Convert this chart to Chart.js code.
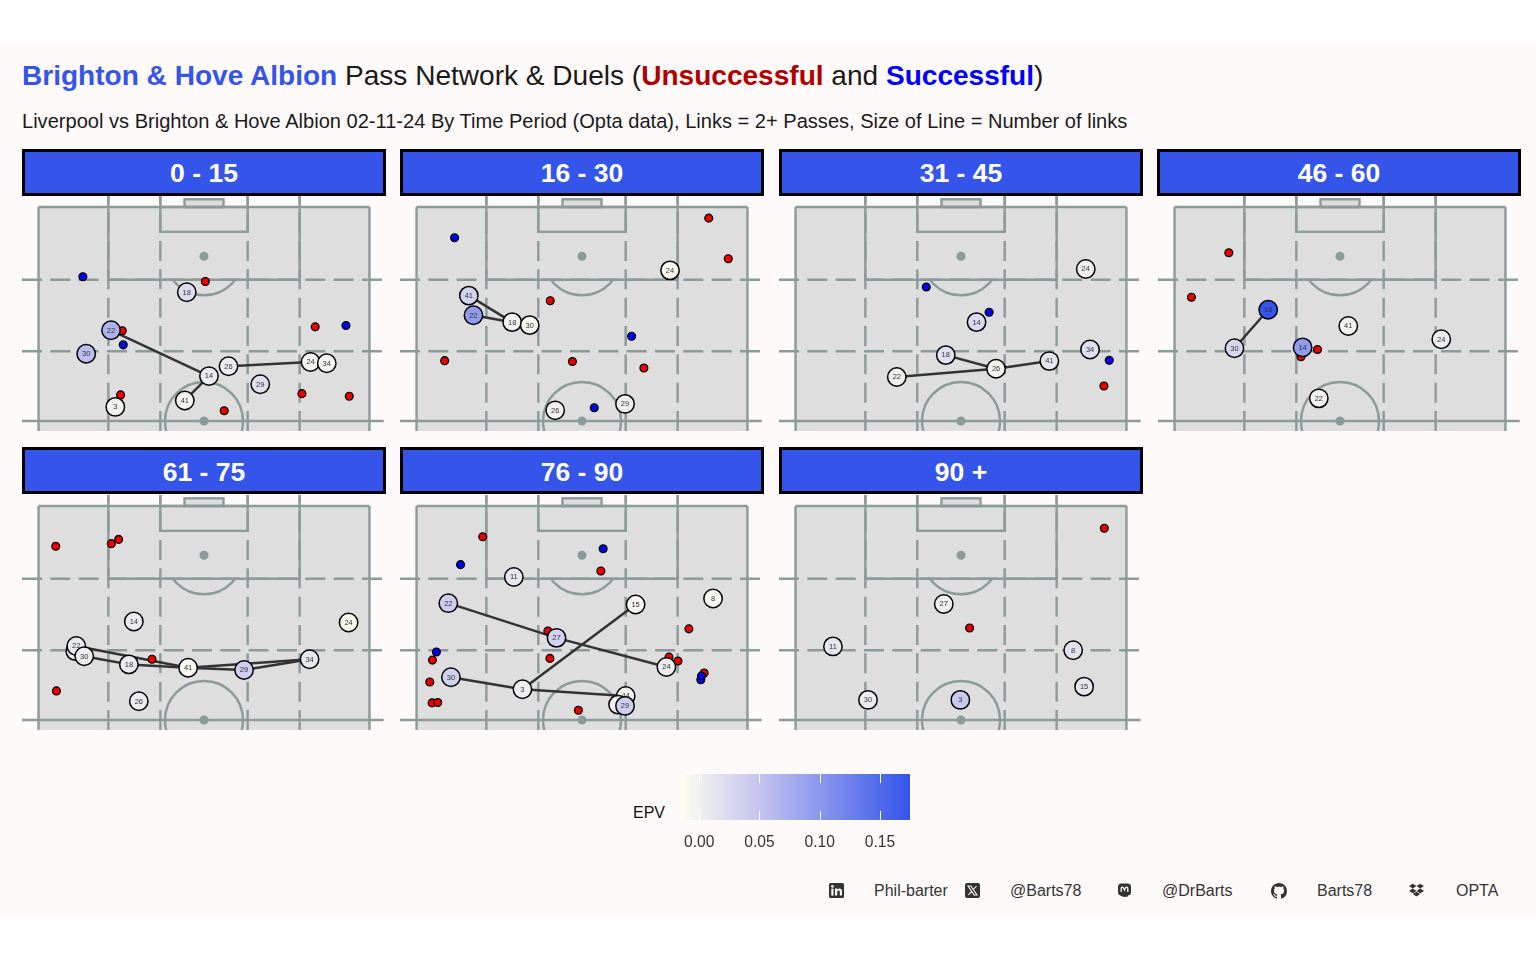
<!DOCTYPE html>
<html>
<head>
<meta charset="utf-8">
<title>Pass Network & Duels</title>
<script src="https://cdn.jsdelivr.net/npm/chart.js@4"></script>
<style>
  html, body { margin: 0; padding: 0; background: #fff; font-family: "Liberation Sans", Arial, sans-serif; }
  #page { position: relative; width: 1536px; height: 960px; overflow: hidden; }
  #plot-bg { position: absolute; left: 0; top: 43px; width: 1536px; height: 873px; background: #fffafa; }
  .abs { position: absolute; white-space: nowrap; }
  #title { left: 22px; top: 59px; font-size: 28.05px; line-height: 34px; color: #1a1a1a; }
  #subtitle { left: 22px; top: 110px; font-size: 20.07px; line-height: 23px; color: #1a1a1a; }
  .strip { position: absolute; box-sizing: border-box; width: 364px; height: 47px; background: #3454ea; border: 3px solid #000;
           color: #fff; font-weight: bold; font-size: 26.5px; line-height: 43px; text-align: center; }
  canvas { position: absolute; display: block; }
  .cap { position: absolute; top: 881px; font-size: 16px; line-height: 19px; color: #333; white-space: nowrap; }
  .ico { position: absolute; top: 883px; width: 15px; height: 15px; }
</style>
</head>
<body>
<div id="page">
  <div id="plot-bg"></div>
  <div class="abs" id="title"><b style="color:#3454ea">Brighton &amp; Hove Albion</b> Pass Network &amp; Duels (<b style="color:#b00000">Unsuccessful</b> and <b style="color:#0000ff">Successful</b>)</div>
  <div class="abs" id="subtitle">Liverpool vs Brighton &amp; Hove Albion 02-11-24 By Time Period (Opta data), Links = 2+ Passes, Size of Line = Number of links</div>
  <div class="abs" style="left:633px;top:803px;font-size:16px;line-height:19px;color:#111">EPV</div>
  <canvas id="legendBar" width="230" height="76" style="left:680px;top:774px"></canvas>

  <svg class="ico" style="left:829px" viewBox="0 0 15 15"><rect width="15" height="15" rx="1.5" fill="#333"/><rect x="2.3" y="5.6" width="2.2" height="7" fill="#fffafa"/><circle cx="3.4" cy="3.4" r="1.3" fill="#fffafa"/><path d="M6 5.6h2.1v1c.5-.8 1.3-1.2 2.3-1.2 1.9 0 2.6 1.2 2.6 3.2v4H10.800v-3.600c0-1-.3-1.600-1.200-1.600s-1.400.7-1.400 1.700v3.500H6z" fill="#fffafa"/></svg>
  <div class="cap" style="left:874px">Phil-barter</div>
  <svg class="ico" style="left:965px" viewBox="0 0 15 15"><rect width="15" height="15" rx="2" fill="#333"/><path d="M3 3h2.800l6.200 9h-2.800zM11.500 3l-3.600 4M6.800 8.200L3.300 12" stroke="#fffafa" stroke-width="1.100" fill="none"/></svg>
  <div class="cap" style="left:1010px">@Barts78</div>
  <svg class="ico" style="left:1117px" viewBox="0 0 15 15"><rect x="1" y="0.500" width="13" height="12" rx="3.500" fill="#333"/><path d="M3 12c1.500 2 5 2.500 8 1.500v-1.500z" fill="#333"/><path d="M4.200 9V5.300c0-1.500 2-1.500 2.500 0l.8 1.700.8-1.700c.5-1.500 2.500-1.500 2.500 0V9" stroke="#fffafa" stroke-width="1.300" fill="none"/></svg>
  <div class="cap" style="left:1162px">@DrBarts</div>
  <svg class="ico" style="left:1271px;width:16px;height:16px" viewBox="0 0 16 16"><path fill="#333" d="M8 0C3.580 0 0 3.580 0 8c0 3.540 2.290 6.530 5.470 7.590.4.070.55-.17.55-.38 0-.19-.01-.82-.01-1.490-2.010.37-2.530-.49-2.690-.94-.09-.23-.48-.94-.82-1.130-.28-.15-.68-.52-.01-.53.63-.01 1.080.58 1.230.82.72 1.210 1.870.87 2.330.66.07-.52.28-.87.51-1.070-1.780-.2-3.640-.89-3.640-3.950 0-.87.31-1.590.82-2.150-.08-.2-.36-1.020.08-2.120 0 0 .67-.21 2.200.82.64-.18 1.320-.27 2-.27.68 0 1.360.09 2 .27 1.530-1.040 2.200-.82 2.200-.82.44 1.100.16 1.920.08 2.120.51.56.82 1.270.82 2.150 0 3.070-1.870 3.750-3.650 3.950.29.25.54.73.54 1.480 0 1.070-.01 1.930-.01 2.200 0 .21.15.46.55.38A8.013 8.013 0 0016 8c0-4.420-3.580-8-8-8z"/></svg>
  <div class="cap" style="left:1317px">Barts78</div>
  <svg class="ico" style="left:1409px" viewBox="0 0 15 15"><path fill="#333" d="M3.800 0.800L7.500 3.100 3.800 5.500 0 3.100zM11.200 0.800L15 3.100 11.200 5.500 7.500 3.100zM3.800 5.500L7.500 7.900 3.800 10.200 0 7.900zM11.200 5.500L15 7.900 11.200 10.200 7.500 7.900zM3.800 11L7.500 8.700 11.200 11 7.500 13.400z"/></svg>
  <div class="cap" style="left:1456px">OPTA</div>
</div>
<script>
// time periods, one facet each
const periods = ['0 - 15', '16 - 30', '31 - 45', '46 - 60', '61 - 75', '76 - 90', '90 +'];

// players: [shirt number, pitch x, pitch y, EPV]  (Opta 0-100 pitch)
const nodes1 = [['18',44.8,80.1,0.022],['22',21.9,71.2,0.07],['30',14.4,65.7,0.058],['14',51.5,60.5,0.006],['26',57.4,62.8,0.006],['29',67.0,58.6,0.02],['41',44.2,54.8,-0.005],['3',23.2,53.3,-0.002],['24',82.2,63.8,-0.006],['34',87.1,63.5,-0.004]];
const nodes2 = [['41',15.8,79.3,0.035],['22',17.2,74.7,0.095],['18',28.9,73.1,0.0],['30',34.2,72.4,-0.008],['24',76.6,85.2,-0.01],['26',41.9,52.5,0.0],['29',63.0,54.0,0.002]];
const nodes3 = [['24',87.7,85.5,0.002],['14',54.7,73.1,0.025],['18',45.4,65.4,0.02],['34',89.0,66.7,0.02],['41',76.7,64.0,0.012],['26',60.6,62.2,-0.004],['22',30.6,60.3,0.0]];
const nodes4 = [['18',28.3,76.0,0.175],['30',18.1,67.0,0.03],['14',38.7,67.2,0.095],['41',52.5,72.2,0.0],['24',80.6,69.1,0.003],['22',43.6,55.3,-0.002]];
const nodes5 = [['3',11.1,66.1,0.004],['22',11.4,67.3,0.01],['30',13.8,64.9,0.004],['14',28.8,73.0,0.005],['18',27.3,63.0,0.005],['41',45.2,62.2,-0.008],['29',62.1,61.7,0.04],['34',81.9,64.2,0.01],['24',93.7,72.8,-0.012],['26',30.3,54.4,0.004]];
const nodes6 = [['11',29.4,83.4,0.012],['22',9.6,77.3,0.04],['15',66.2,77.0,-0.005],['8',89.6,78.4,-0.007],['27',42.3,69.2,0.035],['24',75.5,62.4,0.004],['30',10.4,60.0,0.035],['3',32.0,57.2,0.004],['44',63.2,55.6,0.0],['4',60.9,53.6,0.0],['29',63.0,53.3,0.04]];
const nodes7 = [['27',44.8,77.1,0.0],['11',11.3,67.2,0.012],['8',83.9,66.3,0.015],['15',87.2,57.8,0.012],['30',21.9,54.7,0.004],['3',49.8,54.7,0.045]];

// passing links: pairs of shirt numbers
const links1 = [['22','14'],['14','41'],['26','24']];
const links2 = [['41','18'],['22','18']];
const links3 = [['18','26'],['22','26'],['26','41']];
const links4 = [['18','30']];
const links5 = [['22','41'],['30','18'],['18','41'],['41','34'],['41','29'],['29','34']];
const links6 = [['22','27'],['27','24'],['30','3'],['3','15'],['3','44']];
const links7 = [];

// unsuccessful duels [x, y]
const red1 = [[50.4,82.6],[25.3,71.1],[83.6,72.0],[24.8,56.1],[79.6,56.4],[93.9,55.8],[56.1,52.4]];
const red2 = [[88.3,97.4],[94.2,87.9],[40.4,78.1],[8.5,64.1],[47.1,63.9],[68.7,62.4]];
const red3 = [[93.2,58.2]];
const red4 = [[16.4,89.3],[5.1,78.9],[43.2,66.7],[38.2,65.0]];
const red5 = [[5.2,90.6],[22.0,91.2],[24.2,92.2],[34.3,64.2],[5.4,56.8]];
const red6 = [[20.0,92.8],[55.7,84.8],[82.3,71.3],[39.7,70.8],[40.3,64.4],[4.8,64.0],[76.3,64.7],[79.0,63.8],[86.9,61.0],[4.0,58.9],[4.7,54.0],[6.4,54.1],[48.9,52.3]];
const red7 = [[93.3,94.8],[52.6,71.5]];

// successful duels [x, y]
const blue1 = [[13.4,83.7],[25.6,67.8],[92.9,72.3]];
const blue2 = [[11.5,92.8],[65.0,69.8],[53.7,53.1]];
const blue3 = [[39.5,81.3],[58.5,75.4],[94.8,64.2]];
const blue4 = [];
const blue5 = [];
const blue6 = [[13.3,86.3],[56.4,90.0],[6.0,65.9],[85.9,59.4],[86.1,60.3]];
const blue7 = [];

// EPV colour bar
const epvStops = [-0.016, 0.05, 0.175];
const epvColours = [[255, 255, 240], [196, 196, 240], [52, 84, 234]];
const epvTicks = [0, 0.05, 0.10, 0.15];

const allNodes = [nodes1, nodes2, nodes3, nodes4, nodes5, nodes6, nodes7];
const allLinks = [links1, links2, links3, links4, links5, links6, links7];
const allRed = [red1, red2, red3, red4, red5, red6, red7];
const allBlue = [blue1, blue2, blue3, blue4, blue5, blue6, blue7];

const panelLeft = [22, 400, 779, 1158, 22, 400, 779];
const panelTop = [196, 196, 196, 196, 495, 495, 495];
const stripLeft = [22, 400, 779, 1157, 22, 400, 779];
const stripTop = [149, 149, 149, 149, 447, 447, 447];
const stripLine = [43, 43, 43, 43, 45, 45, 45];

function epvColour(v) {
    const t = Math.max(epvStops[0], Math.min(epvStops[2], v));
    const i = t < epvStops[1] ? 0 : 1;
    const f = (t - epvStops[i]) / (epvStops[i + 1] - epvStops[i]);
    const c = epvColours[i].map((a, k) => Math.round(a + (epvColours[i + 1][k] - a) * f));
    return 'rgb(' + c.join(',') + ')';
}

// pitch markings, drawn under the datasets with the chart's own scales
const pitchPlugin = {
    id: 'pitch',
    beforeDatasetsDraw(chart) {
        const { ctx, scales: { x, y } } = chart;
        const px = v => x.getPixelForValue(v);
        const py = v => y.getPixelForValue(v);
        const lineCol = '#8a9b99';
        const seg = (x1, y1, x2, y2, dash) => {
            ctx.setLineDash(dash || []);
            ctx.beginPath();
            ctx.moveTo(px(x1), py(y1));
            ctx.lineTo(px(x2), py(y2));
            ctx.stroke();
        };
        const rect = (x1, y1, x2, y2) => {
            ctx.setLineDash([]);
            ctx.strokeRect(px(x1), py(y2), px(x2) - px(x1), py(y1) - py(y2));
        };
        ctx.save();
        ctx.beginPath();
        ctx.rect(chart.chartArea.left, chart.chartArea.top, chart.chartArea.width, chart.chartArea.height);
        ctx.clip();
        ctx.fillStyle = '#dedede';
        ctx.fillRect(px(0), py(100), px(100) - px(0), py(47) - py(100));
        ctx.fillRect(px(44.1), py(101.8), px(55.9) - px(44.1), py(100) - py(101.8));
        ctx.strokeStyle = lineCol;
        ctx.lineWidth = 2.4;
        const dash = [20, 8.33];
        const yMin = y.min, yMax = y.max, xMin = x.min, xEnd = 104.3;
        [66.3, 83].forEach(v => seg(xMin, v, xEnd, v, dash));
        [21.1, 36.8, 63.2, 78.9].forEach(v => seg(v, yMin, v, yMax, dash));
        seg(xMin, 50, xEnd, 50);
        seg(0, yMin, 0, 100);
        seg(100, yMin, 100, 100);
        seg(0, 100, 100, 100);
        seg(21.1, 83, 21.1, yMax);
        seg(78.9, 83, 78.9, yMax);
        seg(21.1, 83, 78.9, 83);
        rect(36.8, 94.2, 63.2, 100);
        seg(36.8, 100, 36.8, yMax);
        seg(63.2, 100, 63.2, yMax);
        rect(44.1, 100, 55.9, 101.8);
        // centre circle
        ctx.setLineDash([]);
        ctx.beginPath();
        ctx.arc(px(50), py(50), 39, 0, Math.PI * 2);
        ctx.stroke();
        // penalty arc, only below the box
        ctx.save();
        ctx.beginPath();
        ctx.rect(px(0), py(83), px(100) - px(0), 60);
        ctx.clip();
        ctx.beginPath();
        ctx.arc(px(50), py(88.5), 39, 0, Math.PI * 2);
        ctx.stroke();
        ctx.restore();
        ctx.fillStyle = lineCol;
        [88.5, 50].forEach(v => {
            ctx.beginPath();
            ctx.arc(px(50), py(v), 4.5, 0, Math.PI * 2);
            ctx.fill();
        });
        ctx.restore();
    }
};

// shirt number goes on straight after its own circle so later circles can cover it
const nodeLabelPlugin = {
    id: 'nodeLabel',
    afterDatasetDraw(chart, args) {
        const ds = chart.data.datasets[args.index];
        if (!ds.nodeLabel) return;
        const p = args.meta.data[0];
        const ctx = chart.ctx;
        ctx.save();
        ctx.font = '7.5px "Liberation Sans", Arial, sans-serif';
        ctx.fillStyle = '#333';
        ctx.textAlign = 'center';
        ctx.textBaseline = 'middle';
        ctx.fillText(ds.nodeLabel, p.x, p.y + 0.3);
        ctx.restore();
    }
};

function buildPanel(i) {
    const strip = document.createElement('div');
    strip.className = 'strip';
    strip.style.left = stripLeft[i] + 'px';
    strip.style.top = stripTop[i] + 'px';
    strip.style.lineHeight = stripLine[i] + 'px';
    strip.textContent = periods[i];
    document.getElementById('page').appendChild(strip);

    const cv = document.createElement('canvas');
    cv.width = 364;
    cv.height = 235;
    cv.style.left = panelLeft[i] + 'px';
    cv.style.top = panelTop[i] + 'px';
    document.getElementById('page').appendChild(cv);

    const nodes = allNodes[i];
    const datasets = [];
    allLinks[i].forEach(l => {
        const a = nodes.find(n => n[0] === l[0]);
        const b = nodes.find(n => n[0] === l[1]);
        datasets.push({
            data: [{ x: a[1], y: a[2] }, { x: b[1], y: b[2] }],
            showLine: true, borderColor: '#333333', borderWidth: 2.5, pointRadius: 0, order: 3
        });
    });
    datasets.push({
        data: allRed[i].map(p => ({ x: p[0], y: p[1] })),
        backgroundColor: '#ee0000', borderColor: '#000', borderWidth: 1.3, pointRadius: 3.9, order: 2
    });
    datasets.push({
        data: allBlue[i].map(p => ({ x: p[0], y: p[1] })),
        backgroundColor: '#0000ee', borderColor: '#000', borderWidth: 1.3, pointRadius: 3.9, order: 1
    });
    nodes.forEach((n, k) => {
        datasets.push({
            nodeLabel: n[0],
            data: [{ x: n[1], y: n[2] }],
            backgroundColor: epvColour(n[3]), borderColor: '#000', borderWidth: 1.5, pointRadius: 9.2, order: -k
        });
    });

    new Chart(cv, {
        type: 'scatter',
        data: { datasets: datasets },
        plugins: [pitchPlugin, nodeLabelPlugin],
        options: {
            responsive: false,
            animation: false,
            events: [],
            layout: { padding: 0, autoPadding: false },
            plugins: { legend: { display: false }, tooltip: { enabled: false } },
            scales: {
                x: { type: 'linear', min: -5, max: 105, display: false },
                y: { type: 'linear', min: 47.67, max: 102.57, display: false }
            }
        }
    });
}

periods.forEach((p, i) => buildPanel(i));

// colour bar legend
const barPlugin = {
    id: 'epvBar',
    beforeDatasetsDraw(chart) {
        const { ctx, chartArea: a, scales: { x } } = chart;
        const g = ctx.createLinearGradient(a.left, 0, a.right, 0);
        for (let s = 0; s <= 20; s++) {
            const v = x.min + (x.max - x.min) * s / 20;
            g.addColorStop(s / 20, epvColour(v));
        }
        ctx.fillStyle = g;
        ctx.fillRect(a.left, a.top, a.width, a.height);
        ctx.strokeStyle = '#ffffff';
        ctx.lineWidth = 1;
        epvTicks.forEach(v => {
            const p = Math.round(x.getPixelForValue(v)) + 0.5;
            ctx.beginPath();
            ctx.moveTo(p, a.top); ctx.lineTo(p, a.top + 9);
            ctx.moveTo(p, a.bottom - 9); ctx.lineTo(p, a.bottom);
            ctx.stroke();
        });
    }
};

new Chart(document.getElementById('legendBar'), {
    type: 'scatter',
    data: { datasets: [{ data: [] }] },
    plugins: [barPlugin],
    options: {
        responsive: false,
        animation: false,
        events: [],
        layout: { padding: 0, autoPadding: false },
        plugins: { legend: { display: false }, tooltip: { enabled: false } },
        scales: {
            x: {
                type: 'linear',
                min: -0.016,
                max: 0.175,
                grid: { display: false, drawTicks: false },
                border: { display: false },
                afterBuildTicks: s => { s.ticks = epvTicks.map(v => ({ value: v })); },
                // the labels must not pull the bar in from the canvas edges
                afterFit: s => { s.height = 30; s.paddingLeft = 0; s.paddingRight = 0; },
                ticks: {
                    maxRotation: 0,
                    autoSkip: false,
                    padding: 13,
                    color: '#333',
                    font: { family: '"Liberation Sans", Arial, sans-serif', size: 15.6 },
                    callback: v => Number(v).toFixed(2)
                }
            },
            y: { display: false, min: 0, max: 1 }
        }
    }
});
</script>
</body>
</html>
